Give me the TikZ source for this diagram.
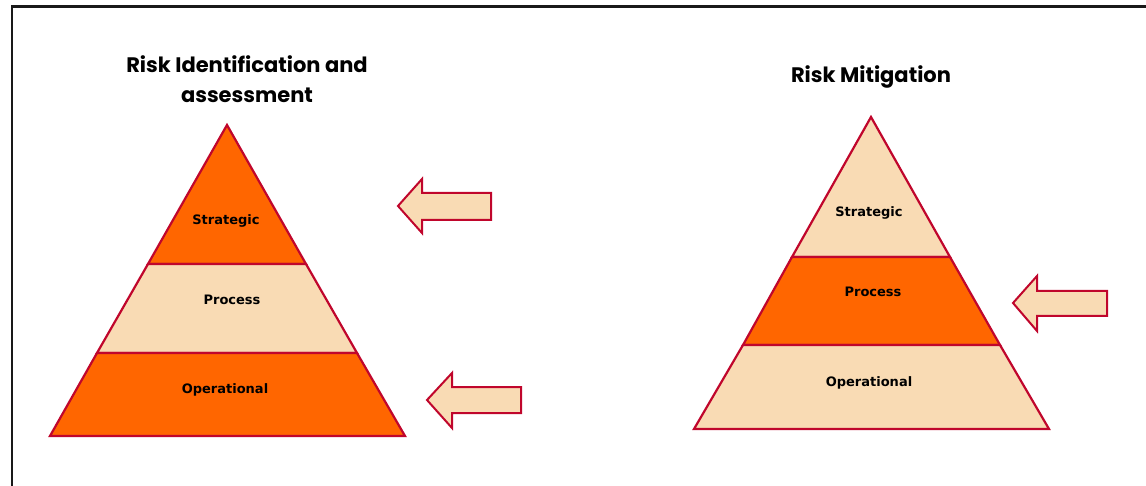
\documentclass[tikz,border=0pt]{standalone}
\usepackage{fontspec}
\newfontfamily\titlefont{Poppins}
\newfontfamily\labelfont{DejaVu Sans}
\definecolor{orng}{HTML}{FF6600}
\definecolor{peach}{HTML}{F9DBB4}
\definecolor{edge}{HTML}{C0062C}
\begin{document}
\begin{tikzpicture}[x=1pt,y=-1pt,
  band/.style={draw=edge,line width=2.2pt,line join=miter},
  lbl/.style={font=\labelfont\bfseries\fontsize{13}{15}\selectfont,text=black},
  ttl/.style={font=\titlefont\bfseries\fontsize{21}{30}\selectfont,text=black,align=center},
  arw/.style={draw=edge,fill=peach,line width=2pt,line join=miter}]
\useasboundingbox (0,0) rectangle (1146,486);
\draw[line width=2.2pt,black!90] (12,487) -- (12,6.5) -- (1147,6.5);
% left pyramid
\path[band,fill=orng] (227,125) -- (306,264) -- (148,264) -- cycle;
\path[band,fill=peach] (148,264) -- (306,264) -- (357,353) -- (97,353) -- cycle;
\path[band,fill=orng] (97,353) -- (357,353) -- (405,436) -- (50,436) -- cycle;
\node[ttl] (t1) at (247,79) {Risk Identification and\\assessment};
\node[lbl] (l1s) at (226,220.5) {Strategic};
\node[lbl] (l1p) at (232,299.5) {Process};
\node[lbl] (l1o) at (225,389.5) {Operational};
% right pyramid
\path[band,fill=peach] (871,117) -- (950,257) -- (792,257) -- cycle;
\path[band,fill=orng] (792,257) -- (950,257) -- (1000,345) -- (743,345) -- cycle;
\path[band,fill=peach] (743,345) -- (1000,345) -- (1049,429) -- (694,429) -- cycle;
\node[ttl] (t2) at (871,77) {Risk Mitigation};
\node[lbl] (l2s) at (869,212.5) {Strategic};
\node[lbl] (l2p) at (873,291.5) {Process};
\node[lbl] (l2o) at (869,382.5) {Operational};
% arrows
\path[arw] (398,206) -- (422,179) -- (422,193) -- (491,193) -- (491,220) -- (422,220) -- (422,233) -- cycle;
\path[arw] (427,400) -- (452,373) -- (452,387) -- (521,387) -- (521,413) -- (452,413) -- (452,428) -- cycle;
\path[arw] (1013,303) -- (1037,276) -- (1037,291) -- (1107,291) -- (1107,316) -- (1037,316) -- (1037,331) -- cycle;
\end{tikzpicture}
\end{document}
